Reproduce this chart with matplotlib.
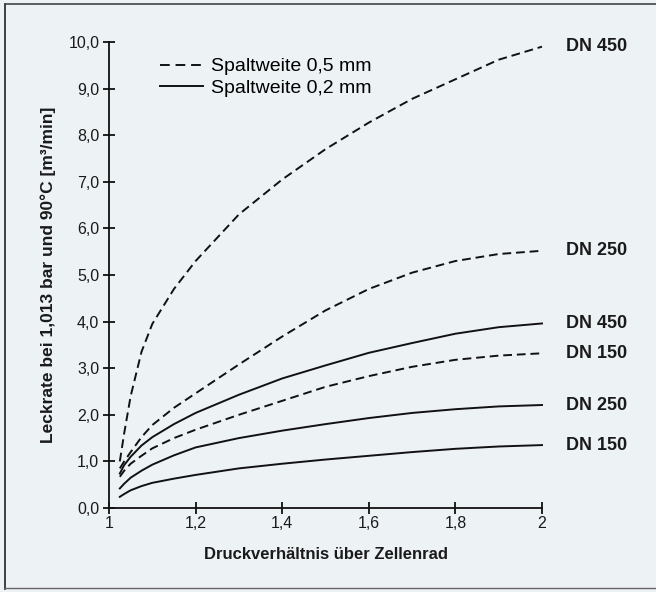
import matplotlib
matplotlib.use("Agg")
import matplotlib.pyplot as plt
from matplotlib.lines import Line2D

plt.rcParams['font.family'] = ['Liberation Sans', 'DejaVu Sans']

# Druckverhaeltnis (x) and Leckrate (y)
x = [1.025, 1.035, 1.05, 1.075, 1.1, 1.15, 1.2, 1.3, 1.4, 1.5, 1.6, 1.7, 1.8, 1.9, 2.0]

# Spaltweite 0,5 mm (dashed)
d_dn450 = [1.0, 1.6, 2.4, 3.35, 3.95, 4.7, 5.3, 6.3, 7.05, 7.7, 8.27, 8.78, 9.2, 9.62, 9.9]
d_dn250 = [0.85, 1.0, 1.2, 1.52, 1.78, 2.15, 2.46, 3.08, 3.68, 4.24, 4.7, 5.05, 5.3, 5.45, 5.52]
d_dn150 = [0.67, 0.8, 0.95, 1.12, 1.28, 1.5, 1.68, 2.0, 2.3, 2.6, 2.83, 3.03, 3.18, 3.27, 3.32]

# Spaltweite 0,2 mm (solid)
s_dn450 = [0.74, 0.92, 1.1, 1.34, 1.52, 1.8, 2.04, 2.43, 2.78, 3.06, 3.33, 3.54, 3.74, 3.88, 3.96]
s_dn250 = [0.42, 0.52, 0.65, 0.8, 0.93, 1.13, 1.3, 1.5, 1.66, 1.8, 1.93, 2.04, 2.12, 2.18, 2.21]
s_dn150 = [0.24, 0.3, 0.38, 0.47, 0.54, 0.63, 0.71, 0.85, 0.95, 1.04, 1.12, 1.2, 1.27, 1.32, 1.35]

labels_d = ['DN 450', 'DN 250', 'DN 150']
labels_s = ['DN 450', 'DN 250', 'DN 150']

xticks = [1, 1.2, 1.4, 1.6, 1.8, 2]
xticklabels = ['1', '1,2', '1,4', '1,6', '1,8', '2']
yticks = [0, 1, 2, 3, 4, 5, 6, 7, 8, 9, 10]
yticklabels = ['0,0', '1,0', '2,0', '3,0', '4,0', '5,0', '6,0', '7,0', '8,0', '9,0', '10,0']

bg = '#edf2f5'
fig = plt.figure(figsize=(6.56, 5.92), dpi=100, facecolor=bg)
ax = fig.add_axes([109 / 656, 1 - 508 / 592, 433 / 656, 466 / 592])
ax.set_facecolor(bg)

dash = (0, (4.5, 2.5))
for yv, lab in zip([d_dn450, d_dn250, d_dn150], labels_d):
    ax.plot(x, yv, color='#111111', lw=1.4, linestyle=dash, clip_on=False)
    ax.annotate(lab, (x[-1], yv[-1]), xytext=(17, 0), textcoords='offset points',
                va='center', ha='left', fontsize=13, fontweight='bold', color='#1a1a1a')
for yv, lab in zip([s_dn450, s_dn250, s_dn150], labels_s):
    ax.plot(x, yv, color='#111111', lw=1.4, clip_on=False)
    ax.annotate(lab, (x[-1], yv[-1]), xytext=(17, 0), textcoords='offset points',
                va='center', ha='left', fontsize=13, fontweight='bold', color='#1a1a1a')

ax.set_xlim(1, 2)
ax.set_ylim(0, 10)
for s in ['top', 'right']:
    ax.spines[s].set_visible(False)
for s in ['left', 'bottom']:
    ax.spines[s].set_linewidth(1.3)
    ax.spines[s].set_color('#111111')

ax.set_xticks(xticks)
ax.set_xticklabels(xticklabels)
ax.set_yticks(yticks)
ax.set_yticklabels(yticklabels)
ax.tick_params(direction='inout', length=8, width=1.3, color='#111111',
               labelsize=11.5, labelcolor='#1a1a1a')
ax.tick_params(axis='x', pad=2)
ax.tick_params(axis='y', pad=3)

ax.set_xlabel('Druckverhältnis über Zellenrad', fontsize=12, fontweight='bold',
              color='#1a1a1a', labelpad=11)
ax.set_ylabel('Leckrate bei 1,013 bar und 90°C [m³/min]', fontsize=12.5,
              fontweight='bold', color='#1a1a1a', labelpad=9)

handles = [Line2D([], [], color='#111111', lw=1.4, linestyle=(0, (5, 3))),
           Line2D([], [], color='#111111', lw=1.4)]
ax.legend(handles, ['Spaltweite 0,5 mm', 'Spaltweite 0,2 mm'], loc='upper left',
          bbox_to_anchor=(0.118, 0.966), frameon=False, fontsize=14,
          handlelength=2.2, handletextpad=0.42, labelspacing=0.2, borderpad=0,
          borderaxespad=0)

# scan frame
fig.add_artist(Line2D([0.008, 0.008], [0.005, 0.993], color='#222222', lw=1.2))
fig.add_artist(Line2D([0.008, 1.0], [0.993, 0.993], color='#444444', lw=1.2))
fig.add_artist(Line2D([0.008, 1.0], [0.007, 0.007], color='#666666', lw=1.0))

fig.savefig('out.png', dpi=100, facecolor=bg)
